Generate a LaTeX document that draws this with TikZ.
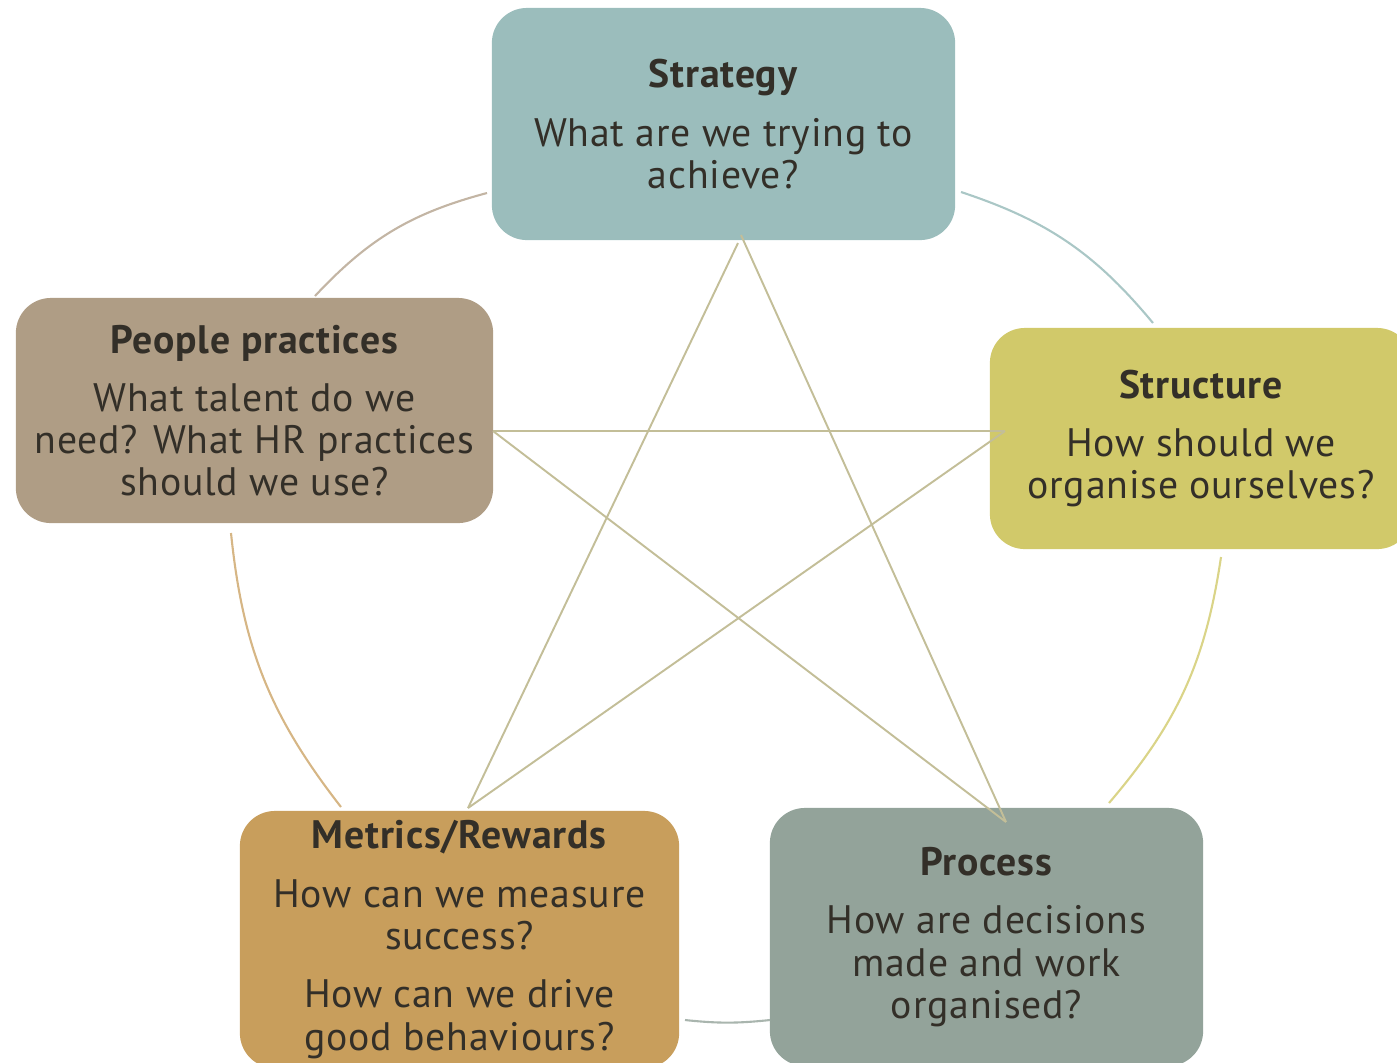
\documentclass[tikz,border=0pt]{standalone}
\usepackage{fontspec}
\setmainfont{PT Sans}[LetterSpace=2]
\usepackage{tikz}

\definecolor{strategyc}{HTML}{9BBDBC}
\definecolor{peoplec}{HTML}{AF9D85}
\definecolor{structurec}{HTML}{D1C96A}
\definecolor{metricsc}{HTML}{C89E5C}
\definecolor{processc}{HTML}{93A39A}
\definecolor{starc}{HTML}{C3BE98}
\definecolor{inkc}{HTML}{332F28}

\begin{document}
\begin{tikzpicture}[x=0.01cm, y=-0.01cm,
    box/.style={rectangle, rounded corners=0.35cm, draw=none, text=inkc,
        align=center, inner sep=0pt,
        font=\fontsize{11.3}{12}\selectfont},
    ring/.style={line width=0.6pt, bend right=16},
    starline/.style={draw=starc, line width=0.55pt}]
    \useasboundingbox (0,0) rectangle (1397,1062);
    \clip (0,0) rectangle (1397,1062);

    \node[box, fill=strategyc, minimum width=4.63cm, minimum height=2.32cm] (strategy) at (723.5,124)
        {\textbf{Strategy}\\[4.6pt] What are we trying to\\ achieve?};
    \node[box, fill=peoplec, minimum width=4.77cm, minimum height=2.25cm] (people) at (254.5,410.5)
        {\textbf{People practices}\\[4.6pt] What talent do we\\ need? What HR practices\\ should we use?};
    \node[box, fill=structurec, minimum width=4.22cm, minimum height=2.21cm] (structure) at (1201,438.5)
        {\textbf{Structure}\\[4.6pt] How should we\\ organise ourselves?};
    \node[box, fill=metricsc, minimum width=4.39cm, minimum height=2.57cm] (metrics) at (459.5,939.5)
        {\textbf{Metrics/Rewards}\\[4.6pt] How can we measure\\ success?\\[4.6pt] How can we drive\\ good behaviours?};
    \node[box, fill=processc, minimum width=4.33cm, minimum height=2.58cm] (process) at (986.5,937)
        {\textbf{Process}\\[4.6pt] How are decisions\\ made and work\\ organised?};

    % ends of the ring segments
    \coordinate (r1a) at (487,193);
    \coordinate (r1b) at (315,296);
    \coordinate (r2a) at (231,533);
    \coordinate (r2b) at (341,807);
    \coordinate (r3a) at (685,1020);
    \coordinate (r3b) at (770,1020);
    \coordinate (r4a) at (1109,803);
    \coordinate (r4b) at (1221,557);
    \coordinate (r5a) at (1153,323);
    \coordinate (r5b) at (961,192);

    \draw[ring, draw=peoplec!75] (r1a) to (r1b);
    \draw[ring, draw=metricsc!75] (r2a) to (r2b);
    \draw[ring, draw=processc!80, bend right=6] (r3a) to (r3b);
    \draw[ring, draw=structurec!80] (r4a) to (r4b);
    \draw[ring, draw=strategyc!85] (r5a) to (r5b);

    % star points
    \coordinate (topR) at (741,235);
    \coordinate (topL) at (738,243);
    \coordinate (leftP) at (493,431);
    \coordinate (rightP) at (1005,431);
    \coordinate (botL) at (468,808);
    \coordinate (botR) at (1006,822);

    \draw[starline] (topL) -- (botL);
    \draw[starline] (topR) -- (botR);
    \draw[starline] (leftP) -- (rightP);
    \draw[starline] (leftP) -- (botR);
    \draw[starline] (rightP) -- (botL);
\end{tikzpicture}
\end{document}
